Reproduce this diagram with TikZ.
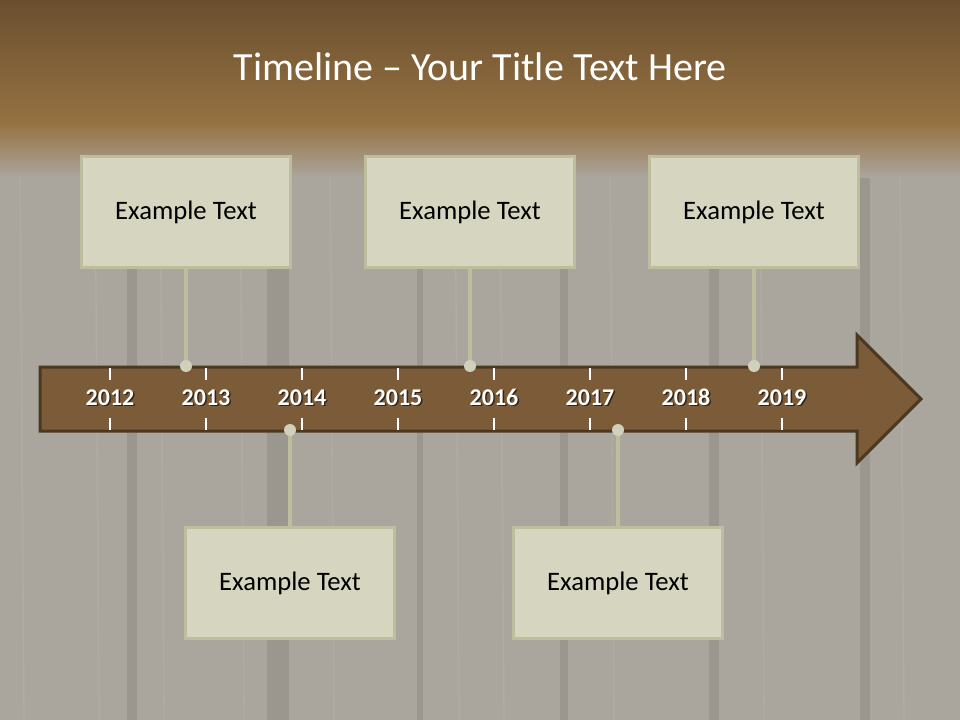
\documentclass[tikz,border=0pt]{standalone}
\usepackage{fontspec}
\setmainfont{Carlito}
\definecolor{woodbg}{RGB}{171,166,157}
\definecolor{plankgap}{RGB}{138,133,125}
\definecolor{bandtop}{RGB}{106,79,47}
\definecolor{bandbot}{RGB}{150,114,66}
\definecolor{bandfade}{RGB}{196,178,160}
\definecolor{arrowfill}{RGB}{124,92,56}
\definecolor{arrowline}{RGB}{74,56,33}
\definecolor{boxfill}{RGB}{214,214,192}
\definecolor{boxline}{RGB}{190,190,158}
\definecolor{dotfill}{RGB}{208,208,188}

\begin{document}
\begin{tikzpicture}[x=0.75pt,y=-0.75pt,
    box/.style={draw=boxline,fill=boxfill,line width=2.25pt,inner sep=0pt,
        minimum width=156.75pt,minimum height=83.25pt,
        font=\fontsize{20}{24}\selectfont},
    dot/.style={circle,fill=dotfill,inner sep=0pt,minimum size=9pt},
    link/.style={draw=boxline,line width=3pt},
    year/.style={anchor=base,font=\bfseries\fontsize{18}{22}\selectfont}]
    \useasboundingbox (0,0) rectangle (960,720);
    % wood background
    \fill[woodbg] (0,0) rectangle (960,720);
    \foreach \x/\w in {132/10,278/22,420/6,564/8,714/10,865/10}
        \fill[plankgap,opacity=0.45] (\x-\w/2,130) rectangle (\x+\w/2,720);
    \foreach \x in {20,95,160,240,330,455,500,610,760,900}
        \draw[white,opacity=0.07,line width=1pt] (\x,150) -- (\x+4,720);
    % title band
    \shade[top color=bandtop,bottom color=bandbot] (0,0) rectangle (960,124);
    \shade[top color=bandbot,middle color=bandfade,bottom color=woodbg] (0,123) rectangle (960,178);
    \node[white,font=\fontsize{30}{36}\selectfont] (title) at (480,67) {Timeline -- Your Title Text Here};
    % arrow
    \draw[arrowline,fill=arrowfill,line width=2.25pt,line join=miter]
        (40,367) -- (857,367) -- (857,335) -- (921,399) -- (857,463) -- (857,431) -- (40,431) -- cycle;
    \foreach \yr [count=\i from 0] in {2012,...,2019} {
        \draw[white,line width=0.9pt] (110+96*\i,368) -- (110+96*\i,380);
        \draw[white,line width=0.9pt] (110+96*\i,418) -- (110+96*\i,430);
        \node[year,black,opacity=0.6] at (111.5+96*\i,406.5) {\yr};
        \node[year,white] (y\yr) at (110+96*\i,405) {\yr};
    }
    % boxes
    \node (boxA) at (186,212) [box] {Example Text};
    \node (boxB) at (470,212) [box] {Example Text};
    \node (boxC) at (754,212) [box] {Example Text};
    \node (boxD) at (290,583) [box] {Example Text};
    \node (boxE) at (618,583) [box] {Example Text};
    \node (dotA) at (186,366) [dot] {};
    \node (dotB) at (470,366) [dot] {};
    \node (dotC) at (754,366) [dot] {};
    \node (dotD) at (290,430) [dot] {};
    \node (dotE) at (618,430) [dot] {};
    \draw[link] (boxA) -- (dotA);
    \draw[link] (boxB) -- (dotB);
    \draw[link] (boxC) -- (dotC);
    \draw[link] (boxD) -- (dotD);
    \draw[link] (boxE) -- (dotE);
\end{tikzpicture}
\end{document}
